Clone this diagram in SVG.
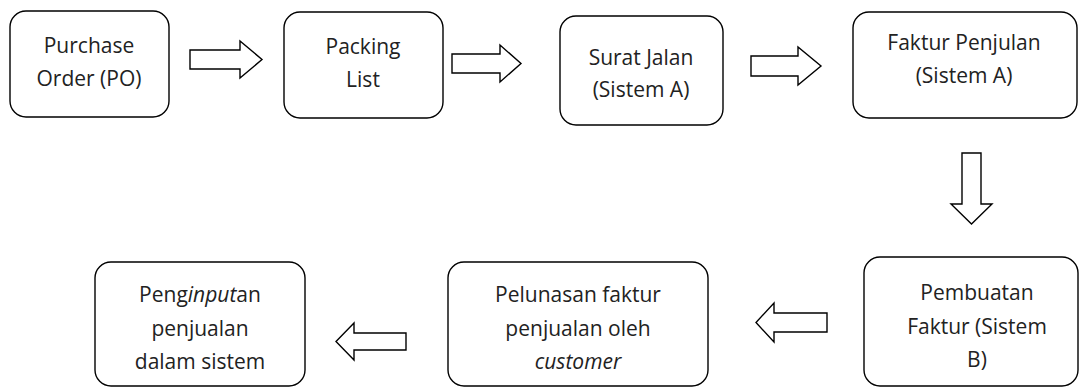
<svg xmlns="http://www.w3.org/2000/svg" width="1080" height="388" viewBox="0 0 1080 388">
<style>
.box{fill:#fff;stroke:#000;stroke-width:1.4}
.arr{fill:#fff;stroke:#000;stroke-width:1.4;stroke-linejoin:miter}
text{font-family:"Open Sans","Liberation Sans",sans-serif;font-size:21px;fill:#222;text-anchor:middle}
.i{font-style:italic}
</style>
<rect width="1080" height="388" fill="#fff"/>
<g id="n1"><rect class="box" x="10" y="11" width="159" height="106" rx="16"/>
<text x="89" y="53">Purchase</text><text x="89" y="86">Order (PO)</text></g>
<g id="n2"><rect class="box" x="284" y="12" width="159" height="106" rx="16"/>
<text x="363" y="54">Packing</text><text x="363" y="87">List</text></g>
<g id="n3"><rect class="box" x="560" y="16" width="163" height="109" rx="16"/>
<text x="641" y="65">Surat Jalan</text><text x="641" y="97">(Sistem A)</text></g>
<g id="n4"><rect class="box" x="853" y="12" width="224" height="106" rx="16"/>
<text x="964" y="50">Faktur Penjulan</text><text x="964" y="83">(Sistem A)</text></g>
<g id="n5"><rect class="box" x="864" y="257" width="214" height="129" rx="16"/>
<text x="977" y="300">Pembuatan</text><text x="977" y="334">Faktur (Sistem</text><text x="977" y="367">B)</text></g>
<g id="n6"><rect class="box" x="448" y="262" width="260" height="124" rx="16"/>
<text x="578" y="302">Pelunasan faktur</text><text x="578" y="336">penjualan oleh</text><text x="578" y="369" class="i">customer</text></g>
<g id="n7"><rect class="box" x="95" y="262" width="210" height="124" rx="16"/>
<text x="200" y="302">Peng<tspan class="i">input</tspan>an</text><text x="200" y="336">penjualan</text><text x="200" y="369">dalam sistem</text></g>
<g id="connectors">
<path class="arr" d="M190,50 H240 V41 L262,59.5 L240,78 V69 H190 Z"/>
<path class="arr" d="M452,54 H500 V45 L521,63.5 L500,82 V73 H452 Z"/>
<path class="arr" d="M751,56 H798 V47 L821,66 L798,85 V76 H751 Z"/>
<path class="arr" d="M962,153 V204 H951 L971.5,224 L992,204 H981 V153 Z"/>
<path class="arr" d="M827,313 H774 V303 L756,322.5 L774,342 V332 H827 Z"/>
<path class="arr" d="M406,333 H354 V323 L336,341.5 L354,360 V350 H406 Z"/>
</g>
</svg>
